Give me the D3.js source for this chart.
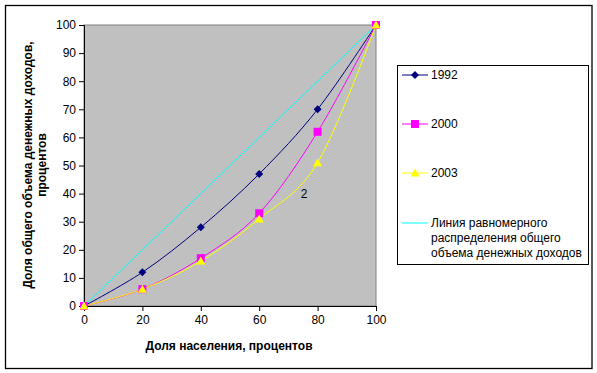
<!DOCTYPE html>
<html><head><meta charset="utf-8">
<script src="https://cdn.jsdelivr.net/npm/d3@7"></script>
<style>body{margin:0;background:#fff}svg{display:block;font-family:"Liberation Sans",Arial,sans-serif}</style>
</head><body>
<svg id="c" width="597" height="373"></svg>
<script>
const xValues = [0, 20, 40, 60, 80, 100];
const series1992 = [0, 12, 28, 47, 70, 100];
const series2000 = [0, 6, 17, 33, 62, 100];
const series2003 = [0, 6, 16, 31, 51, 100];
const equality = [0, 20, 40, 60, 80, 100];
const xTicks = [0, 20, 40, 60, 80, 100];
const yTicks = [0, 10, 20, 30, 40, 50, 60, 70, 80, 90, 100];
const seriesNames = ["1992", "2000", "2003"];
const equalityName = ["Линия равномерного", "распределения общего", "объема денежных доходов"];
const xTitle = "Доля населения, процентов";
const yTitle = ["Доля общего объема денежных доходов,", "процентов"];
const annotation = "2";

const svg = d3.select("#c");
const L = 84, R = 376, T = 25, B = 306;
const x = d3.scaleLinear().domain([0, 100]).range([L, R]);
const y = d3.scaleLinear().domain([0, 100]).range([B, T]);

svg.append("rect").attr("x", 5.5).attr("y", 5.5).attr("width", 586.5).attr("height", 363)
  .attr("fill", "#fff").attr("stroke", "#000").attr("stroke-width", 1.3);

svg.append("rect").attr("x", L).attr("y", T).attr("width", R - L).attr("height", B - T)
  .attr("fill", "#C0C0C0").attr("stroke", "#808080").attr("stroke-width", 1);

const yAxis = svg.append("g").attr("transform", `translate(${L},0)`)
  .call(d3.axisLeft(y).tickValues(yTicks).tickSize(5).tickPadding(3));
const xAxis = svg.append("g").attr("transform", `translate(0,${B})`)
  .call(d3.axisBottom(x).tickValues(xTicks).tickSize(5).tickPadding(4));
[yAxis, xAxis].forEach(a => {
  a.select(".domain").attr("stroke", "#000");
  a.selectAll(".tick line").attr("stroke", "#000");
  a.selectAll(".tick text").attr("font-size", 12).attr("fill", "#000")
    .attr("font-family", '"Liberation Sans",Arial,sans-serif');
});

const smooth = d3.line().x((d, i) => x(xValues[i])).y(d => y(d)).curve(d3.curveCardinal.tension(0));
const straight = d3.line().x((d, i) => x(xValues[i])).y(d => y(d));

svg.append("path").datum(equality).attr("d", straight).attr("fill", "none").attr("stroke", "#00FFFF").attr("stroke-width", 1);

const cols = ["#000080", "#FF00FF", "#FFFF00"];
const data = [series1992, series2000, series2003];
data.forEach((s, k) => {
  svg.append("path").datum(s).attr("d", smooth).attr("fill", "none").attr("stroke", cols[k]).attr("stroke-width", 1);
});

function marker(g, k, cx, cy) {
  if (k === 0) {
    g.append("path").attr("d", `M${cx},${cy-4}L${cx+4},${cy}L${cx},${cy+4}L${cx-4},${cy}Z`).attr("fill", cols[0]);
  } else if (k === 1) {
    g.append("rect").attr("x", cx - 4).attr("y", cy - 4).attr("width", 8).attr("height", 8).attr("fill", cols[1]);
  } else {
    g.append("path").attr("d", `M${cx},${cy-4.5}L${cx+4.5},${cy+3.5}L${cx-4.5},${cy+3.5}Z`).attr("fill", cols[2]);
  }
}
const mg = svg.append("g");
data.forEach((s, k) => s.forEach((v, i) => marker(mg, k, x(xValues[i]), y(v))));

svg.append("text").attr("x", 304).attr("y", 198).attr("text-anchor", "middle").attr("font-size", 12).text(annotation);

svg.append("text").attr("x", 229).attr("y", 350).attr("text-anchor", "middle")
  .attr("font-size", 12).attr("font-weight", "bold").text(xTitle);
const yt = svg.append("text").attr("transform", "translate(32,165) rotate(-90)").attr("text-anchor", "middle")
  .attr("font-size", 12).attr("font-weight", "bold");
yt.append("tspan").attr("x", 0).attr("y", 0).text(yTitle[0]);
yt.append("tspan").attr("x", 0).attr("y", 14).text(yTitle[1]);

// legend
svg.append("rect").attr("x", 397.5).attr("y", 65.5).attr("width", 191).attr("height", 199)
  .attr("fill", "#fff").attr("stroke", "#000").attr("stroke-width", 1);
const legY = [75, 124, 173];
seriesNames.forEach((n, k) => {
  svg.append("line").attr("x1", 402).attr("x2", 428).attr("y1", legY[k]).attr("y2", legY[k]).attr("stroke", cols[k]);
  marker(svg, k, 415, legY[k]);
  svg.append("text").attr("x", 431).attr("y", legY[k] + 4).attr("font-size", 12).text(n);
});
svg.append("line").attr("x1", 402).attr("x2", 428).attr("y1", 223).attr("y2", 223).attr("stroke", "#00FFFF");
equalityName.forEach((t, i) => {
  svg.append("text").attr("x", 431).attr("y", 227 + i * 15).attr("font-size", 12).text(t);
});
</script>
</body></html>
